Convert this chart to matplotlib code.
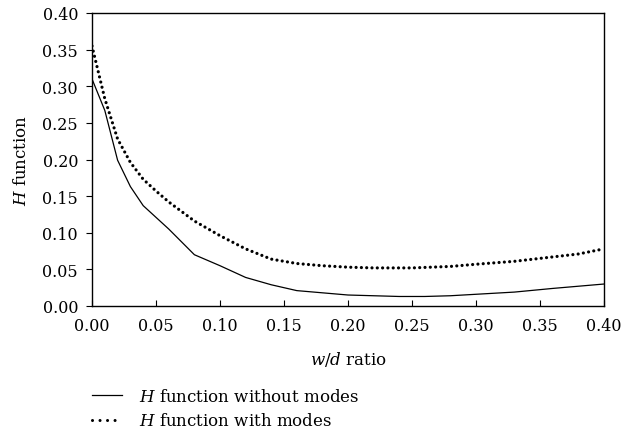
import numpy as np
import matplotlib
matplotlib.use("Agg")
import matplotlib.pyplot as plt
from matplotlib.lines import Line2D

# Data
wd_solid = [0.00, 0.01, 0.02, 0.03, 0.04, 0.06, 0.08, 0.10, 0.12, 0.14, 0.16,
            0.18, 0.20, 0.22, 0.24, 0.26, 0.28, 0.30, 0.33, 0.36, 0.40]
h_without = [0.310, 0.267, 0.199, 0.163, 0.137, 0.105, 0.070, 0.055, 0.039, 0.029, 0.021,
             0.018, 0.015, 0.014, 0.013, 0.013, 0.014, 0.016, 0.019, 0.024, 0.030]

wd_dotted = [0.00, 0.01, 0.02, 0.03, 0.04, 0.05, 0.06, 0.08, 0.10, 0.12, 0.14, 0.16,
             0.18, 0.20, 0.22, 0.25, 0.28, 0.30, 0.33, 0.35, 0.38, 0.40]
h_with = [0.355, 0.283, 0.228, 0.196, 0.173, 0.157, 0.142, 0.116, 0.096, 0.078, 0.064, 0.058,
          0.055, 0.053, 0.052, 0.052, 0.054, 0.057, 0.061, 0.065, 0.071, 0.078]

labels = ['$H$ function without modes', '$H$ function with modes']
xticks = [0.00, 0.05, 0.10, 0.15, 0.20, 0.25, 0.30, 0.35, 0.40]
yticks = [0.00, 0.05, 0.10, 0.15, 0.20, 0.25, 0.30, 0.35, 0.40]

plt.rcParams['font.family'] = ['DejaVu Serif']
plt.rcParams['mathtext.fontset'] = 'dejavuserif'

fs = 12
tfs = 11.5
fig = plt.figure(figsize=(6.21, 4.39), dpi=100)
ax = fig.add_axes([92/621, 1 - 307/439, (604 - 92)/621, (307 - 14)/439])

ax.plot(wd_solid, h_without, color='black', lw=0.9)
ax.plot(wd_dotted, h_with, color='black', lw=2.3, linestyle=(0, (0.01, 1.65)),
        dash_capstyle='round')

ax.set_xlim(0, 0.40)
ax.set_ylim(0, 0.40)
ax.set_xticks(xticks)
ax.set_yticks(yticks)
ax.set_xticklabels([f"{v:.2f}" for v in xticks])
ax.set_yticklabels([f"{v:.2f}" for v in yticks])
ax.tick_params(axis='x', direction='in', length=4, width=0.8, labelsize=tfs, pad=8)
ax.tick_params(axis='y', direction='out', length=4, width=0.8, labelsize=tfs, pad=6)
for s in ax.spines.values():
    s.set_linewidth(1.0)

ax.set_xlabel('$w/d$ ratio', fontsize=fs, va='top')
ax.xaxis.set_label_coords(0.5, -0.147)
ax.set_ylabel('$H$ function', fontsize=fs)
ax.yaxis.set_label_coords(-0.122, 0.5)

# legend proxies (legend dots are spaced wider than in the plot)
handles = [Line2D([], [], color='black', lw=0.9),
           Line2D([], [], color='black', lw=2.2, linestyle=(0, (0.01, 2.45)),
                  dash_capstyle='round')]
fig.legend(handles, labels, loc='upper left', bbox_to_anchor=(92/621, 1 - 389/439),
           frameon=False, fontsize=fs, handlelength=1.8, handletextpad=1.0,
           labelspacing=0.45, borderpad=0, borderaxespad=0)

fig.savefig('out.png', dpi=100)
